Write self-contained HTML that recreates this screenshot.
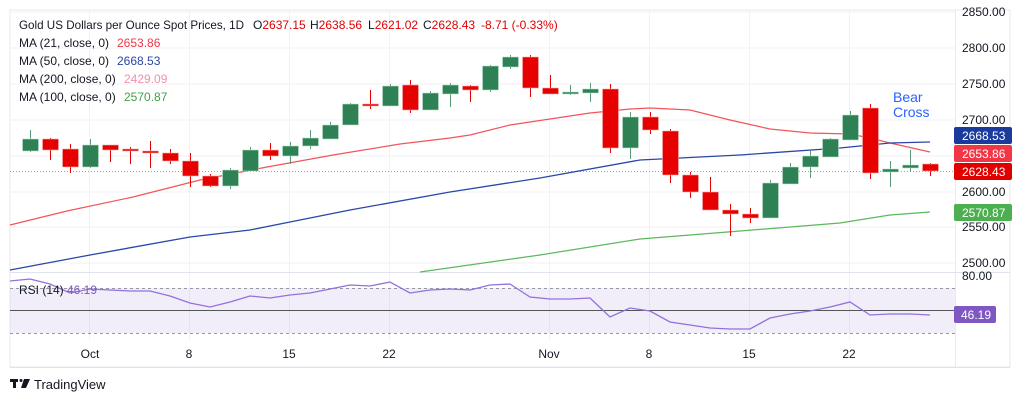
<!DOCTYPE html>
<html><head><meta charset="utf-8"><style>
html,body{margin:0;padding:0;background:#fff;width:1024px;height:403px;overflow:hidden}
svg{display:block;font-family:"Liberation Sans",sans-serif}
</style></head><body>
<svg width="1024" height="403" viewBox="0 0 1024 403" xmlns="http://www.w3.org/2000/svg">
<rect x="10" y="10" width="1000" height="357" fill="#fff" stroke="#e8eaf0"/>
<g stroke="#f0f2f6" stroke-width="1">
<line x1="10" y1="12" x2="955" y2="12"/><line x1="10" y1="48" x2="955" y2="48"/><line x1="10" y1="84" x2="955" y2="84"/><line x1="10" y1="120" x2="955" y2="120"/><line x1="10" y1="156" x2="955" y2="156"/><line x1="10" y1="192" x2="955" y2="192"/><line x1="10" y1="227" x2="955" y2="227"/><line x1="10" y1="263" x2="955" y2="263"/>
<line x1="89.5" y1="10" x2="89.5" y2="340"/><line x1="189.5" y1="10" x2="189.5" y2="340"/><line x1="289.5" y1="10" x2="289.5" y2="340"/><line x1="389.5" y1="10" x2="389.5" y2="340"/><line x1="549.5" y1="10" x2="549.5" y2="340"/><line x1="649.5" y1="10" x2="649.5" y2="340"/><line x1="749.5" y1="10" x2="749.5" y2="340"/><line x1="849.5" y1="10" x2="849.5" y2="340"/>
</g>
<line x1="10" y1="272.5" x2="1010" y2="272.5" stroke="#e0e3eb"/>
<line x1="955.5" y1="10" x2="955.5" y2="367" stroke="#e8eaf0"/>
<line x1="10" y1="367.5" x2="1010" y2="367.5" stroke="#e0e3eb"/>
<line x1="10" y1="171.5" x2="955" y2="171.5" stroke="#f08080" stroke-dasharray="1 2"/>
<polyline fill="none" stroke="#f2545b" stroke-width="1.2" points="10,225 67,211 133,197 200,180 267,167 333,155 400,144 450,138 470,135 510,125 590,113 630,109 650,108 690,110 730,120 770,129 810,133 850,134 870,138 890,143 930,152"/>
<polyline fill="none" stroke="#2947a8" stroke-width="1.3" points="10,270 90,255 190,237 250,230 290,222 350,210 450,192 540,178 640,160 740,155 840,148 890,143 930,142"/>
<polyline fill="none" stroke="#5cb85c" stroke-width="1.2" points="420,272 540,255 640,239 740,231 840,223 890,215 930,212"/>
<g stroke-width="1">
<g stroke="#5a9a78">
<line x1="30.5" y1="130" x2="30.5" y2="152"/><line x1="90.5" y1="139" x2="90.5" y2="168"/><line x1="230.5" y1="168" x2="230.5" y2="189"/><line x1="250.5" y1="147" x2="250.5" y2="171"/><line x1="290.5" y1="142" x2="290.5" y2="164"/><line x1="310.5" y1="130" x2="310.5" y2="149"/><line x1="330.5" y1="122" x2="330.5" y2="139"/><line x1="350.5" y1="103" x2="350.5" y2="125"/><line x1="390.5" y1="84" x2="390.5" y2="106"/><line x1="430.5" y1="91" x2="430.5" y2="110"/><line x1="450.5" y1="83" x2="450.5" y2="107"/><line x1="490.5" y1="65" x2="490.5" y2="92"/><line x1="510.5" y1="55" x2="510.5" y2="69"/><line x1="570.5" y1="85" x2="570.5" y2="95"/><line x1="590.5" y1="83" x2="590.5" y2="102"/><line x1="630.5" y1="112" x2="630.5" y2="159"/><line x1="770.5" y1="180" x2="770.5" y2="218"/><line x1="790.5" y1="163" x2="790.5" y2="184"/><line x1="810.5" y1="151" x2="810.5" y2="178"/><line x1="830.5" y1="138" x2="830.5" y2="157"/><line x1="850.5" y1="111" x2="850.5" y2="140"/><line x1="890.5" y1="161" x2="890.5" y2="187"/><line x1="910.5" y1="150" x2="910.5" y2="172"/>
</g>
<g stroke="#e60000">
<line x1="50.5" y1="138" x2="50.5" y2="160"/><line x1="70.5" y1="144" x2="70.5" y2="173"/><line x1="110.5" y1="145" x2="110.5" y2="162"/><line x1="130.5" y1="147" x2="130.5" y2="164"/><line x1="150.5" y1="141" x2="150.5" y2="168"/><line x1="170.5" y1="149" x2="170.5" y2="164"/><line x1="190.5" y1="153" x2="190.5" y2="187"/><line x1="210.5" y1="174" x2="210.5" y2="187"/><line x1="270.5" y1="143" x2="270.5" y2="160"/><line x1="370.5" y1="90" x2="370.5" y2="109"/><line x1="410.5" y1="80" x2="410.5" y2="113"/><line x1="470.5" y1="85" x2="470.5" y2="102"/><line x1="530.5" y1="55" x2="530.5" y2="97"/><line x1="550.5" y1="75" x2="550.5" y2="94"/><line x1="610.5" y1="84" x2="610.5" y2="153"/><line x1="650.5" y1="112" x2="650.5" y2="134"/><line x1="670.5" y1="129" x2="670.5" y2="183"/><line x1="690.5" y1="172" x2="690.5" y2="198"/><line x1="710.5" y1="177" x2="710.5" y2="210"/><line x1="730.5" y1="204" x2="730.5" y2="236"/><line x1="750.5" y1="208" x2="750.5" y2="223"/><line x1="870.5" y1="104" x2="870.5" y2="179"/><line x1="930.5" y1="163" x2="930.5" y2="176"/>
</g>
<g fill="#2e8055" stroke="#bfe0cc" stroke-width="0.6">
<rect x="22.5" y="139" width="16" height="12"/><rect x="82.5" y="145" width="16" height="22"/><rect x="222.5" y="170" width="16" height="16"/><rect x="242.5" y="150" width="16" height="21"/><rect x="282.5" y="146" width="16" height="10"/><rect x="302.5" y="138" width="16" height="8"/><rect x="322.5" y="125" width="16" height="14"/><rect x="342.5" y="104" width="16" height="21"/><rect x="382.5" y="86" width="16" height="20"/><rect x="422.5" y="93" width="16" height="17"/><rect x="442.5" y="85" width="16" height="9"/><rect x="482.5" y="66" width="16" height="24"/><rect x="502.5" y="57" width="16" height="10"/><rect x="562.5" y="92" width="16" height="2"/><rect x="582.5" y="89" width="16" height="4"/><rect x="622.5" y="117" width="16" height="31"/><rect x="762.5" y="183" width="16" height="35"/><rect x="782.5" y="167" width="16" height="17"/><rect x="802.5" y="156" width="16" height="11"/><rect x="822.5" y="139" width="16" height="18"/><rect x="842.5" y="115" width="16" height="25"/><rect x="882.5" y="169" width="16" height="3"/><rect x="902.5" y="165" width="16" height="3"/>
</g>
<g fill="#e60000" stroke="#f6b0b0" stroke-width="0.6">
<rect x="42.5" y="139" width="16" height="11"/><rect x="62.5" y="149" width="16" height="18"/><rect x="102.5" y="145" width="16" height="5"/><rect x="122.5" y="149" width="16" height="2"/><rect x="142.5" y="151" width="16" height="2"/><rect x="162.5" y="153" width="16" height="8"/><rect x="182.5" y="161" width="16" height="15"/><rect x="202.5" y="176" width="16" height="10"/><rect x="262.5" y="150" width="16" height="6"/><rect x="362.5" y="104" width="16" height="2"/><rect x="402.5" y="85" width="16" height="25"/><rect x="462.5" y="86" width="16" height="4"/><rect x="522.5" y="57" width="16" height="31"/><rect x="542.5" y="88" width="16" height="6"/><rect x="602.5" y="89" width="16" height="59"/><rect x="642.5" y="117" width="16" height="13"/><rect x="662.5" y="131" width="16" height="44"/><rect x="682.5" y="175" width="16" height="17"/><rect x="702.5" y="192" width="16" height="18"/><rect x="722.5" y="210" width="16" height="4"/><rect x="742.5" y="214" width="16" height="4"/><rect x="862.5" y="108" width="16" height="65"/><rect x="922.5" y="164" width="16" height="7"/>
</g>
</g>
<text x="893" y="102" font-size="14" fill="#2962ff">Bear</text>
<text x="893" y="117" font-size="14" fill="#2962ff">Cross</text>
<rect x="10" y="288" width="945" height="45" fill="#7e57c2" fill-opacity="0.1"/>
<line x1="10" y1="288.5" x2="955" y2="288.5" stroke="#9598a1" stroke-dasharray="3 3"/>
<line x1="10" y1="333.5" x2="955" y2="333.5" stroke="#9598a1" stroke-dasharray="3 3"/>
<line x1="10" y1="310.5" x2="955" y2="310.5" stroke="#555" stroke-width="1"/>
<polyline fill="none" stroke="#9370db" stroke-width="1.3" points="10,281 30,279 50,284 70,293 90,289 110,290 130,291 150,291 170,296 190,303 210,307 230,302 250,296 270,298 290,295 310,293 330,289 350,285 370,286 390,282 410,293 430,290 450,289 470,290 490,285 510,284 530,297 550,299 570,299 590,298 610,317 630,308 650,311 670,322 690,325 710,328 730,329 750,329 770,318 790,314 810,311 830,307 850,302 870,315 890,314 910,314 930,315"/>
<text x="19" y="294" font-size="12" fill="#131722">RSI (14)</text>
<text x="67" y="294" font-size="12" fill="#7e57c2">46.19</text>
<g font-size="12" fill="#131722">
<text x="962" y="16">2850.00</text><text x="962" y="52">2800.00</text><text x="962" y="88">2750.00</text><text x="962" y="124">2700.00</text><text x="962" y="196">2600.00</text><text x="962" y="231">2550.00</text><text x="962" y="267">2500.00</text><text x="962" y="280">80.00</text>
</g>
<g font-size="12" fill="#fff">
<rect x="954" y="127" width="58" height="17" rx="2" fill="#1a3a9c"/><text x="962" y="140">2668.53</text>
<rect x="954" y="145" width="58" height="17" rx="2" fill="#f23645"/><text x="962" y="158">2653.86</text>
<rect x="954" y="163" width="58" height="17" rx="2" fill="#e00000"/><text x="962" y="176">2628.43</text>
<rect x="954" y="204" width="58" height="17" rx="2" fill="#4caf50"/><text x="962" y="217">2570.87</text>
<rect x="954" y="306" width="42" height="17" rx="2" fill="#7e57c2"/><text x="961" y="319">46.19</text>
</g>
<g font-size="12" fill="#131722" text-anchor="middle">
<text x="90" y="358">Oct</text><text x="189" y="358">8</text><text x="289" y="358">15</text><text x="389" y="358">22</text><text x="549" y="358">Nov</text><text x="649" y="358">8</text><text x="749" y="358">15</text><text x="849" y="358">22</text>
</g>
<g font-size="12" fill="#131722">
<text x="19" y="29" textLength="225" lengthAdjust="spacingAndGlyphs">Gold US Dollars per Ounce Spot Prices, 1D</text>
<text x="253" y="29">O<tspan fill="#e00000">2637.15</tspan></text>
<text x="310" y="29">H<tspan fill="#e00000">2638.56</tspan></text>
<text x="368" y="29">L<tspan fill="#e00000">2621.02</tspan></text>
<text x="423" y="29">C<tspan fill="#e00000">2628.43</tspan></text>
<text x="481" y="29" fill="#e00000">-8.71 (-0.33%)</text>
<text x="19" y="47">MA (21, close, 0)</text><text x="117" y="47" fill="#f23645">2653.86</text>
<text x="19" y="65">MA (50, close, 0)</text><text x="117" y="65" fill="#2947a8">2668.53</text>
<text x="19" y="83">MA (200, close, 0)</text><text x="124" y="83" fill="#f48fb1">2429.09</text>
<text x="19" y="101">MA (100, close, 0)</text><text x="124" y="101" fill="#43a047">2570.87</text>
</g>
<g fill="#131722"><rect x="10" y="379" width="8" height="3"/><rect x="13" y="379" width="3" height="9"/><circle cx="21" cy="380.5" r="1.5"/><polygon points="24,379 30,379 26,388 21,388"/></g>
<text x="34" y="389" font-size="13" fill="#131722">TradingView</text>
</svg>
</body></html>
